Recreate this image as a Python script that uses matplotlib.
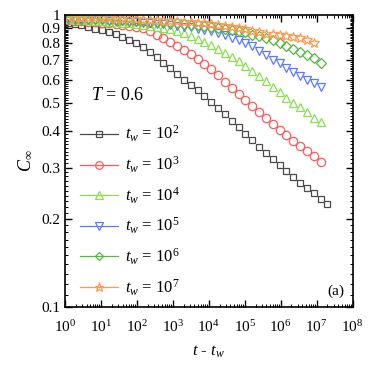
import numpy as np
import matplotlib
matplotlib.use('Agg')
import matplotlib.pyplot as plt
from matplotlib.lines import Line2D
from matplotlib.ticker import FixedLocator, MultipleLocator, NullFormatter, FuncFormatter

plt.rcParams['font.family'] = 'Liberation Serif'
plt.rcParams['mathtext.fontset'] = 'custom'
plt.rcParams['mathtext.rm'] = 'Liberation Serif'
plt.rcParams['mathtext.it'] = 'Liberation Serif:italic'

# log10 of t - t_w at which the data were sampled
log_t = [0.08, 0.27, 0.46, 0.65, 0.84, 1.03, 1.22, 1.41, 1.60, 1.79,
         1.98, 2.17, 2.36, 2.55, 2.74, 2.93, 3.12, 3.31, 3.50, 3.69,
         3.88, 4.07, 4.26, 4.45, 4.64, 4.83, 5.02, 5.21, 5.40, 5.59,
         5.78, 5.97, 6.16, 6.35, 6.54, 6.73, 6.92, 7.11, 7.30]

c_tw2 = [0.935, 0.928, 0.920, 0.910, 0.897, 0.886, 0.875, 0.862, 0.841, 0.819,
         0.798, 0.775, 0.745, 0.715, 0.685, 0.655, 0.625, 0.598, 0.573, 0.551,
         0.527, 0.503, 0.478, 0.456, 0.434, 0.412, 0.392, 0.372, 0.353, 0.337,
         0.320, 0.305, 0.292, 0.279, 0.266, 0.255, 0.245, 0.234, 0.225]
c_tw3 = [0.960, 0.955, 0.952, 0.948, 0.944, 0.940, 0.935, 0.930, 0.924, 0.918,
         0.910, 0.900, 0.880, 0.856, 0.833, 0.807, 0.783, 0.760, 0.735, 0.705,
         0.677, 0.650, 0.621, 0.590, 0.562, 0.534, 0.510, 0.487, 0.464, 0.443,
         0.423, 0.403, 0.387, 0.370, 0.355, 0.341, 0.328, 0.314]
c_tw4 = [0.965, 0.962, 0.960, 0.957, 0.954, 0.951, 0.948, 0.944, 0.940, 0.935,
         0.930, 0.925, 0.918, 0.911, 0.903, 0.893, 0.880, 0.864, 0.846, 0.829,
         0.809, 0.789, 0.764, 0.740, 0.717, 0.693, 0.668, 0.643, 0.617, 0.592,
         0.567, 0.543, 0.521, 0.500, 0.482, 0.463, 0.445, 0.429]
c_tw5 = [0.968, 0.966, 0.964, 0.962, 0.960, 0.957, 0.955, 0.952, 0.949, 0.946,
         0.943, 0.940, 0.936, 0.932, 0.928, 0.923, 0.918, 0.912, 0.905, 0.897,
         0.888, 0.877, 0.864, 0.850, 0.836, 0.820, 0.800, 0.781, 0.754, 0.728,
         0.703, 0.682, 0.660, 0.638, 0.617, 0.600, 0.582, 0.564]
c_tw6 = [0.972, 0.971, 0.970, 0.968, 0.966, 0.964, 0.962, 0.960, 0.958, 0.956,
         0.953, 0.951, 0.948, 0.945, 0.942, 0.938, 0.934, 0.930, 0.926, 0.921,
         0.916, 0.911, 0.904, 0.897, 0.889, 0.880, 0.870, 0.856, 0.845, 0.830,
         0.817, 0.800, 0.783, 0.765, 0.745, 0.729, 0.710, 0.686]
c_tw7 = [0.980, 0.979, 0.978, 0.977, 0.976, 0.974, 0.973, 0.971, 0.969, 0.967,
         0.965, 0.963, 0.960, 0.958, 0.955, 0.952, 0.949, 0.946, 0.942, 0.938,
         0.934, 0.929, 0.924, 0.918, 0.911, 0.903, 0.894, 0.881, 0.870, 0.863,
         0.857, 0.852, 0.845, 0.837, 0.830, 0.822, 0.804]

labels = ['$t_w$ = 10$^2$', '$t_w$ = 10$^3$', '$t_w$ = 10$^4$',
          '$t_w$ = 10$^5$', '$t_w$ = 10$^6$', '$t_w$ = 10$^7$']
colors = ['#4a4a4a', '#ff5a5a', '#88e050', '#5a78ff', '#55b840', '#ff9a50']
markers = ['s', 'o', '^', 'v', 'D', '*']
sizes = [5.0, 6.0, 6.0, 6.0, 5.0, 7.0]
series = [c_tw2, c_tw3, c_tw4, c_tw5, c_tw6, c_tw7]

fig = plt.figure(figsize=(3.82, 3.71), dpi=100)
ax = fig.add_axes([0.170, 0.173, 0.753, 0.787])

handles = []
for y, c, m, s, lab in zip(series, colors, markers, sizes, labels):
    x = 10 ** np.array(log_t[:len(y)])
    ax.plot(x, y, linestyle='none', marker=m, ms=s, mfc='none', mec=c, mew=0.9)
    handles.append(Line2D([], [], color=c, lw=0.9, marker=m, ms=s - 0.5,
                          mfc='none', mec=c, mew=0.9, label=lab))

ax.set_xscale('log')
ax.set_yscale('log')
ax.set_xlim(1, 1e8)
ax.set_ylim(0.1, 1)

ax.xaxis.set_major_locator(FixedLocator([10.0 ** k for k in range(9)]))
ax.xaxis.set_major_formatter(FuncFormatter(lambda v, p: '10$^{%d}$' % round(np.log10(v))))
ax.xaxis.set_minor_locator(FixedLocator([m * 10.0 ** k for k in range(8) for m in range(2, 10)]))
ax.xaxis.set_minor_formatter(NullFormatter())

yt = [0.1, 0.2, 0.3, 0.4, 0.5, 0.6, 0.7, 0.8, 0.9, 1.0]
ax.yaxis.set_major_locator(FixedLocator(yt))
ax.yaxis.set_major_formatter(FuncFormatter(lambda v, p: '1' if v > 0.95 else '%.1f' % v))
ax.yaxis.set_minor_locator(MultipleLocator(0.01))
ax.yaxis.set_minor_formatter(NullFormatter())

ax.tick_params(which='both', direction='in', top=True, right=True, labelsize=11)
ax.tick_params(which='major', length=5, width=1.0, pad=3)
ax.tick_params(axis='x', which='major', pad=9)
ax.tick_params(which='minor', length=2.5, width=0.7)
for sp in ax.spines.values():
    sp.set_linewidth(1.2)

ax.set_xlabel('$t$ - $t_w$', fontsize=12, labelpad=6)
ax.set_ylabel('$C_\\infty$', fontsize=13, labelpad=5)

ax.text(0.09, 0.71, '$T$ = 0.6', transform=ax.transAxes, fontsize=13)
ax.text(0.97, 0.03, '(a)', transform=ax.transAxes, fontsize=11, ha='right', va='bottom')

ax.legend(handles=handles, loc='lower left', bbox_to_anchor=(0.02, 0.0),
          frameon=False, fontsize=12, handlelength=2.3, labelspacing=0.62,
          handletextpad=0.4, borderaxespad=0.15)

fig.savefig('out.png', dpi=100)
